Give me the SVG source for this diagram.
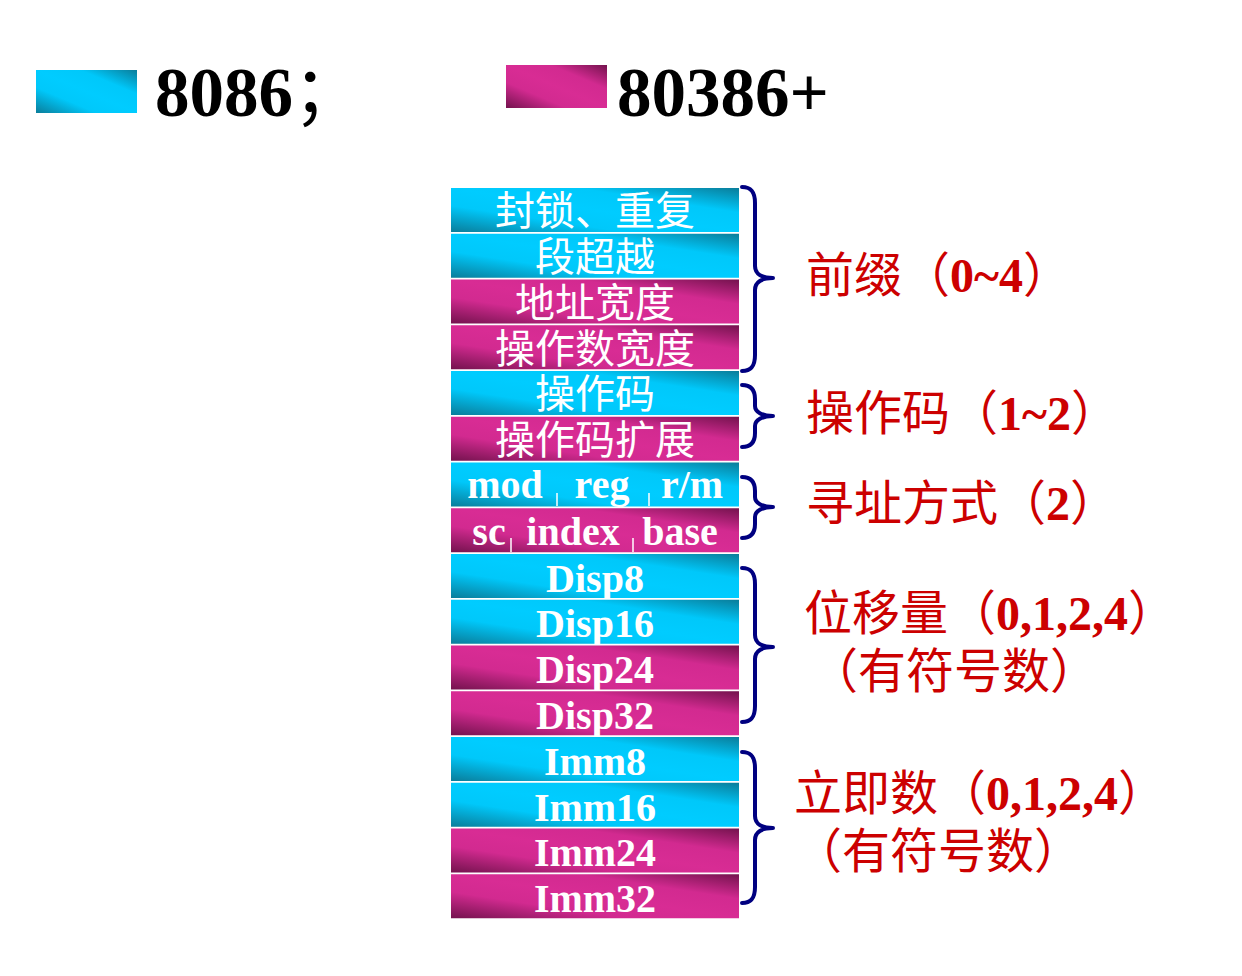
<svg xmlns="http://www.w3.org/2000/svg" width="1242" height="976" viewBox="0 0 1242 976">
<defs>
<linearGradient id="gc" x1="0" y1="1" x2="1" y2="0">
<stop offset="0" stop-color="#0A7D9A"/>
<stop offset="0.3" stop-color="#00C8FA"/>
<stop offset="0.5" stop-color="#00CCFF"/>
<stop offset="0.72" stop-color="#00C8FA"/>
<stop offset="1" stop-color="#0A7D9A"/>
</linearGradient>
<linearGradient id="gm" x1="0" y1="1" x2="1" y2="0">
<stop offset="0" stop-color="#74134E"/>
<stop offset="0.3" stop-color="#D22A90"/>
<stop offset="0.5" stop-color="#D82C94"/>
<stop offset="0.72" stop-color="#D22A90"/>
<stop offset="1" stop-color="#74134E"/>
</linearGradient>
<style>
.c{fill:url(#gc)}
.m{fill:url(#gm)}
.cj{font-family:"Liberation Serif","Noto Sans CJK SC",serif;font-size:40px;fill:#fff;text-anchor:middle}
.lt{font-family:"Liberation Serif","Noto Sans CJK SC",serif;font-size:40px;font-weight:bold;fill:#fff;text-anchor:middle}
.tk{stroke:#fff;stroke-width:1.5}
.br{fill:none;stroke:#000080;stroke-width:4;stroke-linecap:round;stroke-linejoin:round}
.lb{font-family:"Liberation Serif","Noto Sans CJK SC",serif;font-size:48px;fill:#CC0000}
.b{font-weight:bold}
.lg{font-family:"Liberation Serif","Noto Sans CJK SC",serif;font-size:69px;font-weight:bold;fill:#000}
</style>
</defs>
<rect width="1242" height="976" fill="#fff"/>
<g id="legend-8086">
<rect class="c" x="36" y="70" width="101" height="43"/>
<text class="lg" x="155" y="116">8086<tspan font-weight="normal">；</tspan></text>
</g>
<g id="legend-80386">
<rect class="m" x="506" y="65" width="101" height="43"/>
<text class="lg" x="617" y="116" font-size="70">80386+</text>
</g>
<g id="row1"><rect class="c" x="451" y="188" width="288" height="44"/><text class="cj" x="595" y="225">封锁、重复</text></g>
<g id="row2"><rect class="c" x="451" y="233.75" width="288" height="44"/><text class="cj" x="595" y="271">段超越</text></g>
<g id="row3"><rect class="m" x="451" y="279.5" width="288" height="44"/><text class="cj" x="595" y="317">地址宽度</text></g>
<g id="row4"><rect class="m" x="451" y="325.25" width="288" height="44"/><text class="cj" x="595" y="363">操作数宽度</text></g>
<g id="row5"><rect class="c" x="451" y="371" width="288" height="44"/><text class="cj" x="595" y="408">操作码</text></g>
<g id="row6"><rect class="m" x="451" y="416.75" width="288" height="44"/><text class="cj" x="595" y="454">操作码扩展</text></g>
<g id="row7"><rect class="c" x="451" y="462.5" width="288" height="44"/>
<text class="lt" x="505" y="498">mod</text><text class="lt" x="602" y="498">reg</text><text class="lt" x="692" y="498">r/m</text>
<line class="tk" x1="557" y1="493" x2="557" y2="506"/><line class="tk" x1="649" y1="493" x2="649" y2="506"/></g>
<g id="row8"><rect class="m" x="451" y="508.25" width="288" height="44"/>
<text class="lt" x="489" y="545">sc</text><text class="lt" x="573" y="545">index</text><text class="lt" x="680" y="545">base</text>
<line class="tk" x1="511" y1="538" x2="511" y2="552"/><line class="tk" x1="633" y1="538" x2="633" y2="552"/></g>
<g id="row9"><rect class="c" x="451" y="554" width="288" height="44"/><text class="lt" x="595" y="592">Disp8</text></g>
<g id="row10"><rect class="c" x="451" y="599.75" width="288" height="44"/><text class="lt" x="595" y="637">Disp16</text></g>
<g id="row11"><rect class="m" x="451" y="645.5" width="288" height="44"/><text class="lt" x="595" y="683">Disp24</text></g>
<g id="row12"><rect class="m" x="451" y="691.25" width="288" height="44"/><text class="lt" x="595" y="729">Disp32</text></g>
<g id="row13"><rect class="c" x="451" y="737" width="288" height="44"/><text class="lt" x="595" y="775">Imm8</text></g>
<g id="row14"><rect class="c" x="451" y="782.75" width="288" height="44"/><text class="lt" x="595" y="821">Imm16</text></g>
<g id="row15"><rect class="m" x="451" y="828.5" width="288" height="44"/><text class="lt" x="595" y="866">Imm24</text></g>
<g id="row16"><rect class="m" x="451" y="874.25" width="288" height="44"/><text class="lt" x="595" y="912">Imm32</text></g>
<g id="connectors">
<path class="br" d="M742,187 C752,187 755,193 755,203 L755,266 C755,274 762,278 773,278 C762,278 755,282 755,290 L755,355 C755,365 752,371 742,371"/>
<path class="br" d="M742,385 C752,385 755,391 755,399 L755,406 C755,412 762,416 773,416 C762,416 755,420 755,426 L755,433 C755,441 752,447 742,447"/>
<path class="br" d="M742,477 C752,477 755,483 755,491 L755,497 C755,503 762,507 773,507 C762,507 755,511 755,517 L755,524 C755,532 752,538 742,538"/>
<path class="br" d="M742,568 C752,568 755,574 755,584 L755,635 C755,643 762,647 773,647 C762,647 755,651 755,659 L755,706 C755,716 752,722 742,722"/>
<path class="br" d="M742,752 C752,752 755,758 755,768 L755,816 C755,824 762,828 773,828 C762,828 755,832 755,840 L755,887 C755,897 752,903 742,903"/>
</g>
<g id="label-prefix"><text class="lb" x="806" y="292">前缀（<tspan class="b">0~4</tspan>）</text></g>
<g id="label-opcode"><text class="lb" x="806" y="430">操作码（<tspan class="b">1~2</tspan>）</text></g>
<g id="label-addr"><text class="lb" x="806" y="520">寻址方式（<tspan class="b">2</tspan>）</text></g>
<g id="label-disp"><text class="lb" x="804" y="630">位移量（<tspan class="b">0,1,2,4</tspan>）</text><text class="lb" x="810" y="688">（有符号数）</text></g>
<g id="label-imm"><text class="lb" x="794" y="810">立即数（<tspan class="b">0,1,2,4</tspan>）</text><text class="lb" x="794" y="868">（有符号数）</text></g>
</svg>
